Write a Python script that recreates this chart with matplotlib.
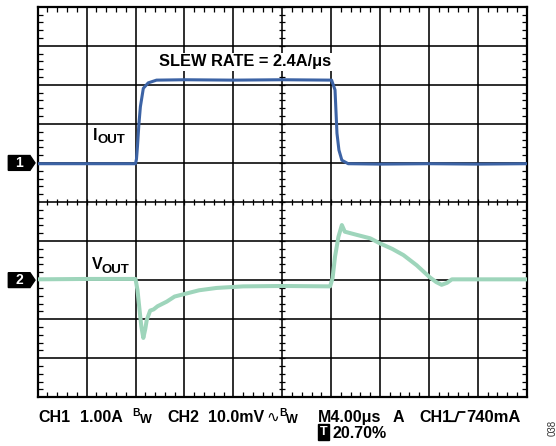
import matplotlib
matplotlib.use("Agg")
import matplotlib.pyplot as plt
from matplotlib.patches import Polygon
from matplotlib.lines import Line2D
import numpy as np

plt.rcParams['font.family'] = ['Liberation Sans', 'DejaVu Sans']

# scope traces, in screen divisions (x: 0..10, y: 0..10)
iout_t = [0, 2.0, 2.02, 2.04, 2.07, 2.1, 2.16, 2.26, 2.43, 3.0, 4.0, 5.0, 6.01,
          6.08, 6.12, 6.16, 6.22, 6.35, 7.0, 8.0, 9.0, 10.0]
iout_v = [5.98, 5.98, 6.1, 6.42, 7.0, 7.44, 7.91, 8.05, 8.12, 8.13, 8.12, 8.13, 8.12,
          7.87, 6.76, 6.33, 6.07, 5.98, 5.97, 5.98, 5.97, 5.98]

vout_t = [0, 1.0, 2.0, 2.04, 2.09, 2.12, 2.16, 2.2, 2.23, 2.3, 2.37, 2.45, 2.64,
          2.8, 3.05, 3.3, 3.66, 4.2, 5.0, 5.98, 6.03, 6.08, 6.15, 6.22, 6.28,
          6.52, 6.8, 7.0, 7.25, 7.48, 7.75, 8.02, 8.15, 8.26, 8.37, 8.47, 9.0, 10.0]
vout_v = [3.02, 3.03, 3.03, 2.75, 2.15, 1.81, 1.52, 1.75, 1.98, 2.22, 2.25, 2.33, 2.45,
          2.58, 2.66, 2.74, 2.8, 2.84, 2.85, 2.84, 3.05, 3.6, 4.11, 4.41, 4.24,
          4.16, 4.07, 3.94, 3.8, 3.64, 3.38, 3.07, 2.95, 2.88, 2.93, 3.02, 3.02, 3.02]

ch_levels = [6.0, 3.0]
ch_names = ['1', '2']

BLUE = '#3c63a5'
GREEN = '#9ed5bb'

W, H = 556, 446
fig = plt.figure(figsize=(W / 100, H / 100), dpi=100)
ax = fig.add_axes([37.7 / W, 1 - 397.3 / H, 489 / W, 390.6 / H])
ax.set_xlim(0, 10)
ax.set_ylim(0, 10)

# graticule
ax.set_xticks(np.arange(0, 11))
ax.set_yticks(np.arange(0, 11))
ax.grid(True, color='black', lw=1.15)
ax.tick_params(which='major', length=0, labelbottom=False, labelleft=False)
minor = np.arange(0, 10.01, 0.2)
ax.set_xticks(minor, minor=True)
ax.set_yticks(minor, minor=True)
ax.tick_params(which='minor', direction='in', length=3.8, width=0.9,
               top=True, right=True, bottom=True, left=True)
for s in ax.spines.values():
    s.set_linewidth(1.6)

# center line ticks
ax.plot(minor, np.full_like(minor, 5.0), ls='none', marker='|', ms=5, mew=0.9, color='k')
ax.plot(np.full_like(minor, 5.0), minor, ls='none', marker='_', ms=5, mew=0.9, color='k')

# traces
ax.plot(iout_t, iout_v, color=BLUE, lw=2.2, solid_joinstyle='round', zorder=5)
ax.plot(vout_t, vout_v, color=GREEN, lw=2.9, solid_joinstyle='round', zorder=5)

# channel markers
for lvl, name in zip(ch_levels, ch_names):
    h = 0.19
    x0, x1, x2 = -29.4 / 489, -7.7 / 489, -2.7 / 489
    poly = Polygon([[x0, lvl - h], [x1, lvl - h], [x2, lvl], [x1, lvl + h], [x0, lvl + h]],
                   closed=True, fc='black', ec='black',
                   transform=ax.get_yaxis_transform(), clip_on=False)
    ax.add_patch(poly)
    ax.text(-18.7 / 489, lvl, name, transform=ax.get_yaxis_transform(), color='white',
            fontsize=10, fontweight='bold', ha='center', va='center')

# labels in the screen
ax.text(4.25, 8.59, 'SLEW RATE = 2.4A/\u03bcs', fontsize=11.8, fontweight='bold',
        ha='center', va='center', zorder=6,
        bbox=dict(boxstyle='square,pad=0.1', fc='white', ec='none'))
ax.text(1.137, 6.59, 'I', fontsize=11.5, fontweight='bold', ha='left', va='baseline')
ax.annotate('OUT', (1.137, 6.59), xytext=(3.3, -2.0), textcoords='offset points',
            fontsize=9.5, fontweight='bold', ha='left', va='baseline')
ax.text(1.104, 3.28, 'V', fontsize=11.5, fontweight='bold', ha='left', va='baseline')
ax.annotate('OUT', (1.104, 3.28), xytext=(7.4, -2.4), textcoords='offset points',
            fontsize=9.5, fontweight='bold', ha='left', va='baseline')


def ftxt(px, py, s, **kw):
    kw.setdefault('fontweight', 'bold')
    kw.setdefault('fontsize', 11.5)
    kw.setdefault('va', 'baseline')
    kw.setdefault('ha', 'left')
    return fig.text(px / W, 1 - py / H, s, **kw)


r1, r2 = 421.7, 437.7
ftxt(38, r1, 'CH1')
ftxt(80, r1, '1.00A')
ftxt(132.5, r1 - 5.5, 'B', fontsize=7.5)
ftxt(139.5, r1 + 1.5, 'W', fontsize=9)
ftxt(167, r1, 'CH2')
ftxt(208, r1, '10.0mV')
ftxt(266, r1, '\u223f', fontsize=11, fontweight='normal', family=['DejaVu Sans'])
ftxt(279, r1 - 5.5, 'B', fontsize=7.5)
ftxt(286, r1 + 1.5, 'W', fontsize=9)
ftxt(317.7, r1, 'M4.00\u03bcs')
ftxt(392.7, r1, 'A')
ftxt(419, r1, 'CH1')
ftxt(466, r1, '740mA', fontsize=12)
# trigger edge symbol
fig.add_artist(Line2D(np.array([449.5, 455.5, 458.5, 464.5]) / W,
                      1 - np.array([421.2, 421.2, 412.0, 412.0]) / H,
                      color='black', lw=1.3))
ftxt(323.3, 431.7, 'T', color='white', ha='center', va='center', fontsize=9,
     bbox=dict(boxstyle='square,pad=0.15', fc='black', ec='black'))
ftxt(332.7, r2, '20.70%')
ftxt(552.5, 427.5, '038', fontsize=7, fontweight='normal', rotation=90,
     ha='center', va='center', color='#333333')

fig.savefig('out.png', dpi=100)
